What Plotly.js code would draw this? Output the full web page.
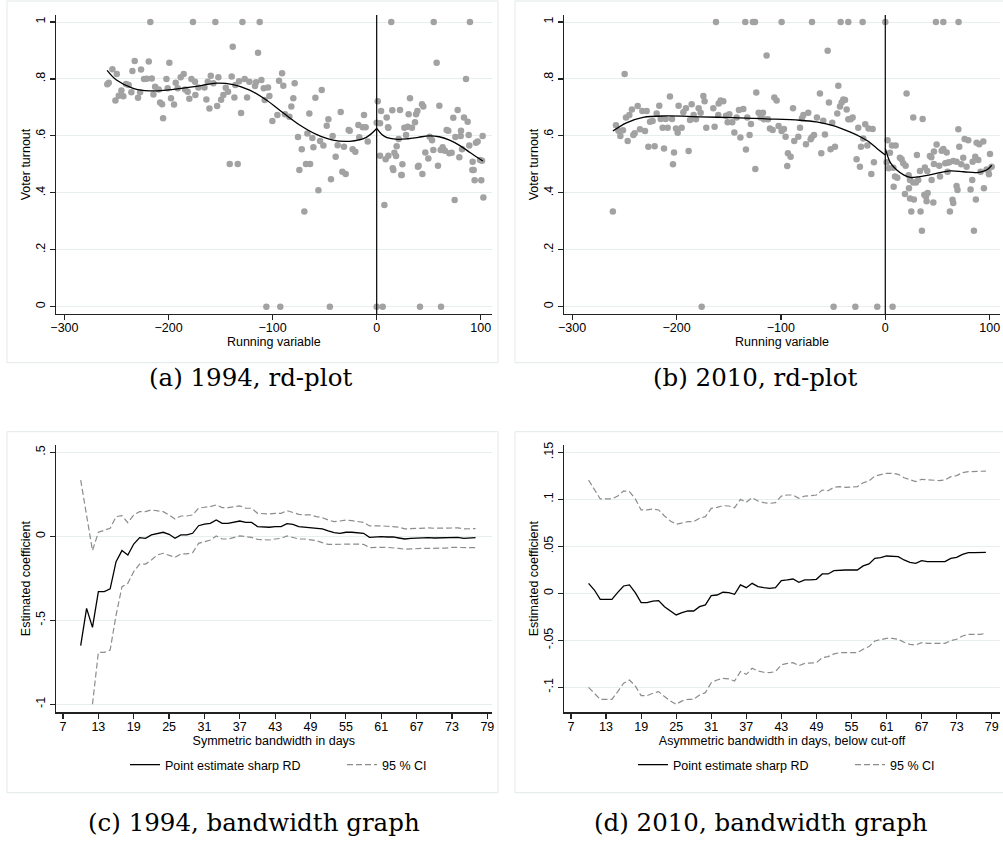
<!DOCTYPE html>
<html>
<head>
<meta charset="utf-8">
<script src="https://cdn.plot.ly/plotly-3.0.1.min.js"></script>
<style>html,body{margin:0;padding:0;background:#fff;overflow:hidden;}#chart{width:1003px;height:843px;}</style>
</head>
<body>
<div id="chart"></div>
<script>
// ---------- Panel (a) 1994 rd-plot: binned scatter (running variable, voter turnout)
const a_x = [-258.8,-257.4,-253.9,-249.7,-251,-247.8,-245.3,-243.4,-240.8,-238.3,-235.7,-234.7,-232.5,-229.3,-227.3,-226.4,-223.5,-220.9,-219,-217.5,-216.1,-214.5,-212.9,-209.4,-208.1,-206.2,-205.2,-202,-200.8,-199.2,-197.6,-194.7,-193.1,-191.2,-188.3,-185.4,-184.1,-181.6,-180,-178,-176.5,-174.5,-174.2,-171.3,-165.5,-163.6,-162.3,-160.7,-159.4,-156.9,-155,-153.3,-152.1,-149.5,-147.3,-145,-142.8,-141.2,-139.3,-138.3,-136.7,-135.8,-133.5,-132.2,-130.3,-129,-126.8,-124.5,-122.3,-116.9,-115.9,-114,-112.4,-110.8,-108.5,-107.6,-106,-104.4,-103.1,-100.2,-95.4,-93.8,-92.6,-90.9,-89.7,-88.1,-83.9,-82,-80.1,-78.8,-75.6,-74.3,-72,-69.5,-67.9,-66.6,-64.7,-64,-61.8,-60.8,-58.9,-56,-54.4,-52.8,-51.2,-48,-46.4,-45,-43.9,-42.3,-39.4,-37.5,-34.6,-33,-31.4,-29.8,-26.9,-25.9,-23.1,-20.5,-17.6,-16.7,-13.4,-12.2,-10.6,-8.6,
  0,0,1,3.2,3.2,4.2,5.8,7.4,8.6,9.6,10.9,11.2,11.2,14,15,15.4,16,17,18.6,19.2,21.1,22.4,23.7,24,24.7,26.6,28.2,29.8,30.7,32,33.9,36.8,37.8,39.1,39.6,40.3,41.6,43.5,43.9,44.8,46.7,49.6,50.9,53.2,54.4,54.8,57.6,58.9,60.2,61.5,61.8,63.4,65.6,67.2,68.8,69.8,72,73.6,74.9,75.6,77.8,79.4,80.7,81,82,83.9,85.8,87.4,88.4,89,89.6,91.9,92.2,93.2,94.1,95.4,97,99.3,100.5,101.2,101.8,102.5];
const a_y = [0.781,0.787,0.834,0.817,0.724,0.741,0.759,0.739,0.782,0.779,0.753,0.828,0.863,0.734,0.753,0.833,0.8,0.801,0.861,1,0.802,0.745,0.773,0.763,0.717,0.711,0.662,0.8,0.767,0.857,0.732,0.71,0.787,0.767,0.806,0.817,0.763,0.755,0.73,0.8,1,0.79,0.744,0.77,0.77,0.728,0.79,0.696,0.811,0.785,1,0.705,0.806,0.727,0.744,0.769,0.755,0.501,0.809,0.913,0.735,0.779,0.501,0.792,0.68,1,0.8,0.735,0.79,0.775,0.788,0.892,1,0.796,0.767,0.726,0,0.77,0.74,0.652,0.673,0.794,0,0.82,0.776,0.676,0.667,0.703,0.732,0.785,0.596,0.48,0.553,0.334,0.501,0.608,0.679,0.501,0.593,0.56,0.734,0.409,0.582,0.761,0.566,0.636,0.658,0,0.448,0.6,0.527,0.567,0.684,0.474,0.562,0.466,0.621,0.618,0.553,0.544,0.638,0.595,0.63,0.673,0.63,0.58,
  0,0.646,0.722,0.644,0.53,0.687,0,0.357,0.518,0.665,0.63,0.629,0.53,1,0.69,0.486,0.48,0.541,0.529,0.564,0.589,0.691,0.463,0.463,0.5,0.629,0.603,0.632,0.676,0.732,0.629,0.648,0.676,0.687,0.492,0.495,0,0.711,0.466,0.703,0.542,0.521,0.597,0.585,0.55,1,0.857,0.495,0.706,0.55,0,0.56,0.548,0.621,0.618,0.539,0.541,0.664,0.375,0.596,0.691,0.525,0.6,0.618,0.553,0.665,0.8,0.65,0.603,0.566,1,0.48,0.509,0.48,0.444,0.576,0.58,0.515,0.444,0.513,0.6,0.384];
// fitted polynomial, (a)
const a_fitL_x = [-259,-250,-234,-218,-202,-186,-170,-154,-138,-122,-106,-90,-74,-58,-42,-26,-10,0];
const a_fitL_y = [0.830,0.796,0.767,0.758,0.761,0.768,0.776,0.785,0.780,0.761,0.726,0.681,0.638,0.605,0.585,0.581,0.595,0.626];
const a_fitR_x = [0,5,10,20,30,40,50,60,70,80,90,102];
const a_fitR_y = [0.626,0.605,0.594,0.588,0.590,0.595,0.600,0.597,0.585,0.566,0.541,0.512];

// ---------- Panel (b) 2010 rd-plot
const b_x = [-261,-258,-255.7,-253.8,-251.3,-249.7,-248.4,-246.8,-245.2,-242.7,-241.4,-240.1,-237.2,-235,-232.8,-230.2,-228.6,-227,-225.4,-222.9,-221,-219,-216.5,-215.2,-213.3,-212,-210.4,-208.5,-206.3,-204.3,-203.4,-202.4,-200.5,-198.9,-198,-195.1,-193.5,-191,-188.4,-187.1,-185.5,-183.6,-181.4,-178.8,-176.9,-175.9,-174.3,-173.1,-171.5,-164.8,-163.5,-162.2,-160,-159.6,-157.7,-155.2,-152.6,-151,-149.4,-146.6,-144.6,-142.4,-140.2,-138.8,-136,-134.1,-133.5,-132.2,-130,-128.7,-126.8,-124.8,-124.5,-123.6,-121.3,-119.4,-117.2,-116.2,-113.7,-112.4,-110.5,-107.9,-106.3,-104.1,-102.2,-99.3,-99.3,-97.1,-95.5,-93.9,-93.3,-90.7,-88.4,-87.2,-83.3,-81.7,-79.8,-78.5,-76,-73.8,-71.5,-70.6,-70.2,-68.3,-65.5,-62.6,-61.3,-59.4,-57.8,-55.2,-54,-52.4,-50.8,-49.5,-48.2,-46,-45,-43.4,-42.8,-41.8,-40.2,-38.6,-37,-35.4,-35.4,-33.2,-31.3,-28.7,-27.5,-25.9,-24.3,-23.3,-21.7,-21.1,-19.2,-17.2,-16,-13.4,-12.1,-10.9,-7.7,
  0,1.3,2.2,3.2,4.5,6.4,7,7.7,8,9.3,9.9,11.5,14,15.6,17.2,18.8,19.5,20.4,22.4,22.7,23.7,23.7,24.9,26.8,26.8,27.4,29.4,30.3,31.6,33.2,33.8,35.1,35.8,37.4,37.9,39,39.6,40.2,40.6,42.8,44.1,44.4,46,46.6,46.6,48.5,49.2,51.7,52.4,54,55.6,55.6,57.5,58.8,59.4,59.7,61.3,61.9,64.4,65.1,65.1,68.3,68.3,69.2,70,70.2,70.9,72.8,74.7,76,77.9,79.5,81.7,83.3,83.7,84.9,86.2,86.8,87.5,89.1,90,91.3,93.9,94.5,97.1,98.7,99.3,100.3,101.9];
const b_y = [0.334,0.637,0.618,0.6,0.62,0.817,0.665,0.582,0.673,0.693,0.603,0.609,0.705,0.623,0.687,0.617,0.687,0.562,0.65,0.652,0.564,0.679,0.706,0.659,0.629,0.556,0.659,0.629,0.738,0.659,0.5,0.542,0.626,0.611,0.706,0.629,0.683,0.697,0.547,0.656,0.711,0.673,0.658,0.697,0.681,0,0.74,0.722,0.629,0.697,0.632,1,0.673,0.714,0.724,0.722,0.671,0.648,0.676,0.648,0.612,0.665,0.691,0.594,0.694,1,0.552,0.665,0.603,0.642,1,1,0.484,0.752,0.681,0.665,0.681,0.658,0.882,0.658,0.626,0.621,0.735,0.724,0.635,0.617,1,0.624,0.597,0.494,0.539,0.527,0.697,0.582,0.597,0.629,0.662,0.673,0.571,0.681,0.588,0.594,1,0.603,0.665,0.749,0.539,0.653,0.605,0.899,0.717,0.553,0.646,0,0.562,0.679,0.776,0.703,1,0.717,0.728,0.726,0.693,0.658,1,0.658,0.665,0,0.518,0.629,0.492,0.562,1,0.591,0.641,0.566,0.626,0.466,0.624,0.507,0,
  1,0.507,0.585,0.486,0.541,0.566,0,0.488,0.421,0.457,0.566,0.453,0.523,0.518,0.504,0.396,0.495,0.749,0.462,0.416,0.445,0.38,0.334,0.665,0.436,0.377,0.436,0.533,0.445,0.477,0.334,0.267,0.659,0.393,0.489,0.387,0.37,0.477,0.399,0.529,0.525,0.445,0.366,0.501,0.545,1,0.57,0.495,0.457,0.548,1,0.554,0.504,0.542,0.506,0.474,0.507,0.334,0.376,0.364,0.512,0.509,0.424,0.41,0.623,1,0.562,0.5,0.523,0.589,0.492,0.585,0.412,0.445,0.509,0.267,0.527,0.377,0.576,0.515,0.571,0.474,0.58,0.416,0.482,0.48,0.465,0.536,0.492];
const b_fitL_x = [-261,-248,-232,-210,-178,-146,-114,-82,-66,-50,-34,-24,-16,-8,0];
const b_fitL_y = [0.617,0.646,0.665,0.670,0.667,0.664,0.660,0.655,0.649,0.636,0.614,0.597,0.580,0.556,0.533];
const b_fitR_x = [0,5,11,18,24,33,49,62,75,88,97,102];
const b_fitR_y = [0.556,0.505,0.480,0.462,0.454,0.457,0.468,0.477,0.474,0.471,0.480,0.497];

// ---------- Panel (c) 1994 bandwidth graph
const c_bw = [10,11,12,13,14,15,16,17,18,19,20,21,22,23,24,25,26,27,28,29,30,31,32,33,34,35,36,37,38,39,40,41,42,43,44,45,46,47,48,49,50,51,52,53,54,55,56,57,58,59,60,61,62,63,64,65,66,67,68,69,70,71,72,73,74,75,76,77];
const c_est = [-0.651,-0.429,-0.542,-0.329,-0.329,-0.313,-0.151,-0.085,-0.111,-0.046,-0.008,-0.012,0.008,0.018,0.024,0.012,-0.012,0.008,0.008,0.018,0.063,0.073,0.077,0.097,0.077,0.077,0.083,0.091,0.083,0.083,0.058,0.054,0.054,0.058,0.058,0.075,0.071,0.058,0.054,0.054,0.048,0.044,0.032,0.022,0.018,0.024,0.024,0.022,0.018,-0.006,-0.002,-0.002,-0.004,-0.004,-0.01,-0.016,-0.012,-0.01,-0.008,-0.008,-0.01,-0.01,-0.008,-0.006,-0.006,-0.012,-0.012,-0.008];
const c_hi = [0.335,0.125,-0.085,0.024,0.034,0.048,0.117,0.123,0.081,0.127,0.147,0.147,0.157,0.153,0.147,0.127,0.103,0.121,0.121,0.127,0.167,0.173,0.177,0.187,0.171,0.171,0.177,0.181,0.167,0.167,0.137,0.133,0.133,0.137,0.137,0.153,0.143,0.131,0.127,0.127,0.117,0.111,0.097,0.087,0.091,0.097,0.093,0.087,0.083,0.062,0.063,0.062,0.060,0.058,0.055,0.044,0.046,0.048,0.050,0.050,0.048,0.048,0.048,0.050,0.050,0.044,0.044,0.046];
const c_lo_bw = [12,13,14,15,16,17,18,19,20,21,22,23,24,25,26,27,28,29,30,31,32,33,34,35,36,37,38,39,40,41,42,43,44,45,46,47,48,49,50,51,52,53,54,55,56,57,58,59,60,61,62,63,64,65,66,67,68,69,70,71,72,73,74,75,76,77];
const c_lo = [-1.0,-0.691,-0.691,-0.677,-0.47,-0.30,-0.28,-0.21,-0.165,-0.165,-0.141,-0.111,-0.101,-0.111,-0.125,-0.105,-0.105,-0.097,-0.042,-0.032,-0.022,0.002,-0.016,-0.016,-0.006,0.002,-0.002,-0.006,-0.018,-0.022,-0.022,-0.016,-0.012,0.002,-0.008,-0.016,-0.016,-0.022,-0.026,-0.038,-0.048,-0.048,-0.046,-0.046,-0.046,-0.046,-0.048,-0.067,-0.065,-0.066,-0.066,-0.068,-0.072,-0.077,-0.074,-0.072,-0.072,-0.072,-0.072,-0.072,-0.07,-0.066,-0.066,-0.07,-0.07,-0.068];

// ---------- Panel (d) 2010 bandwidth graph
const d_bw = [10,11,12,13,14,15,16,17,18,19,20,21,22,23,24,25,26,27,28,29,30,31,32,33,34,35,36,37,38,39,40,41,42,43,44,45,46,47,48,49,50,51,52,53,54,55,56,57,58,59,60,61,62,63,64,65,66,67,68,69,70,71,72,73,74,75,76,77,78];
const d_est = [0.0106,0.0035,-0.0064,-0.0064,-0.0064,0.001,0.0078,0.0089,0.0007,-0.0099,-0.0099,-0.0082,-0.0078,-0.0142,-0.0184,-0.023,-0.0206,-0.0188,-0.0188,-0.0142,-0.0124,-0.0025,-0.0018,0.0011,0.0007,-0.0011,0.0089,0.006,0.0106,0.0071,0.006,0.0053,0.006,0.0135,0.0142,0.0152,0.0117,0.0142,0.0142,0.0149,0.0206,0.0206,0.0241,0.0248,0.0248,0.0248,0.0248,0.0291,0.0312,0.0372,0.0379,0.0397,0.0397,0.039,0.0355,0.033,0.0319,0.0348,0.0337,0.0337,0.0337,0.0337,0.0372,0.0383,0.0415,0.0433,0.0433,0.0433,0.0436];
const d_hi = [0.1206,0.110,0.1004,0.1004,0.1004,0.1035,0.1089,0.1082,0.1004,0.0887,0.0887,0.0897,0.0887,0.0823,0.077,0.0734,0.0752,0.0762,0.0762,0.0798,0.0816,0.0904,0.0915,0.0933,0.0929,0.0911,0.1,0.0968,0.1018,0.0982,0.0965,0.0957,0.0965,0.1035,0.1046,0.1046,0.1011,0.1035,0.1039,0.1046,0.1099,0.1092,0.1128,0.1135,0.1128,0.1128,0.1135,0.1177,0.1195,0.1248,0.1259,0.1277,0.1277,0.1266,0.123,0.1206,0.1188,0.1213,0.1206,0.1199,0.1199,0.1206,0.1241,0.1252,0.1284,0.1294,0.1294,0.1294,0.1301];
const d_lo = [-0.1,-0.1064,-0.1128,-0.1128,-0.1128,-0.1046,-0.0957,-0.0922,-0.0986,-0.1089,-0.1089,-0.1064,-0.1046,-0.1099,-0.1145,-0.1181,-0.1145,-0.1128,-0.1128,-0.1082,-0.1057,-0.095,-0.0922,-0.0904,-0.0911,-0.0933,-0.0833,-0.0862,-0.0798,-0.0826,-0.084,-0.0844,-0.0833,-0.0762,-0.0745,-0.0738,-0.077,-0.0745,-0.0738,-0.0738,-0.0684,-0.0674,-0.0645,-0.0631,-0.0631,-0.0631,-0.0631,-0.0596,-0.0567,-0.0507,-0.0496,-0.0479,-0.0479,-0.0489,-0.0521,-0.0543,-0.055,-0.0525,-0.0532,-0.0532,-0.0532,-0.0532,-0.0504,-0.0489,-0.0454,-0.0436,-0.0436,-0.0436,-0.0426];

// tick labels
const rd_xticks = [-300,-200,-100,0,100];
const rd_yticks = [0,0.2,0.4,0.6,0.8,1];
const rd_ylabels = ['0','.2','.4','.6','.8','1'];
const bw_xticks = [7,13,19,25,31,37,43,49,55,61,67,73,79];
const c_yticks = [-1,-0.5,0,0.5];
const c_ylabels = ['-1','-.5','0','.5'];
const d_yticks = [-0.1,-0.05,0,0.05,0.1,0.15];
const d_ylabels = ['-.1','-.05','0','.05','.1','.15'];
const cutoff = 0;
const captions = ['(a) 1994, rd-plot','(b) 2010, rd-plot','(c) 1994, bandwidth graph','(d) 2010, bandwidth graph'];

// ---------- styling helpers
const W = 1003, H = 843;
const px = v => v / W, py = v => 1 - v / H;
const SANS = 'Liberation Sans, Arial, sans-serif';
const DOT = '#a2a2a2', GRID = '#e6eef0', AX = '#222';
const ptMarker = {size: 6.5, color: DOT};
const fitLine = {color: '#000', width: 1.3, shape: 'spline'};
const estLine = {color: '#000', width: 1.3};
const ciLine = {color: '#8c8c8c', width: 1.2, dash: '6px,3px'};

const traces = [
  {x: a_x, y: a_y, mode: 'markers', marker: ptMarker, xaxis: 'x', yaxis: 'y', showlegend: false},
  {x: a_fitL_x, y: a_fitL_y, mode: 'lines', line: fitLine, xaxis: 'x', yaxis: 'y', showlegend: false},
  {x: a_fitR_x, y: a_fitR_y, mode: 'lines', line: fitLine, xaxis: 'x', yaxis: 'y', showlegend: false},
  {x: b_x, y: b_y, mode: 'markers', marker: ptMarker, xaxis: 'x2', yaxis: 'y2', showlegend: false},
  {x: b_fitL_x, y: b_fitL_y, mode: 'lines', line: fitLine, xaxis: 'x2', yaxis: 'y2', showlegend: false},
  {x: b_fitR_x, y: b_fitR_y, mode: 'lines', line: fitLine, xaxis: 'x2', yaxis: 'y2', showlegend: false},
  {x: c_bw, y: c_est, mode: 'lines', line: estLine, xaxis: 'x3', yaxis: 'y3', name: 'Point estimate sharp RD', legend: 'legend'},
  {x: c_bw, y: c_hi, mode: 'lines', line: ciLine, xaxis: 'x3', yaxis: 'y3', name: '95 % CI', legend: 'legend'},
  {x: c_lo_bw, y: c_lo, mode: 'lines', line: ciLine, xaxis: 'x3', yaxis: 'y3', showlegend: false},
  {x: d_bw, y: d_est, mode: 'lines', line: estLine, xaxis: 'x4', yaxis: 'y4', name: 'Point estimate sharp RD', legend: 'legend2'},
  {x: d_bw, y: d_hi, mode: 'lines', line: ciLine, xaxis: 'x4', yaxis: 'y4', name: '95 % CI', legend: 'legend2'},
  {x: d_bw, y: d_lo, mode: 'lines', line: ciLine, xaxis: 'x4', yaxis: 'y4', showlegend: false}
];

function xa(domain, range, ticks, title, anchor) {
  return {domain, range, tickvals: ticks, anchor, showline: true, linecolor: AX, linewidth: 1.4,
    ticks: 'outside', ticklen: 5, tickwidth: 1.2, tickcolor: AX, showgrid: false, zeroline: false,
    ticklabelstandoff: -3,
    tickfont: {family: SANS, size: 12.5, color: '#000'},
    title: {text: title, font: {family: SANS, size: 12.5, color: '#000'}, standoff: 0}};
}
function ya(domain, range, ticks, labels, title, anchor) {
  return {domain, range, tickvals: ticks, ticktext: labels, tickangle: -90, anchor, showline: true,
    linecolor: AX, linewidth: 1.4, ticks: 'outside', ticklen: 5, tickwidth: 1.2, tickcolor: AX,
    showgrid: true, gridcolor: GRID, gridwidth: 1, zeroline: false,
    tickfont: {family: SANS, size: 12.5, color: '#000'},
    title: {text: title, font: {family: SANS, size: 12.5, color: '#000'}, standoff: 0}};
}

const leftDom = [px(56), px(491.7)], rightDom = [px(564), px(1000)];
const topDom = [py(314), py(15)], botDom = [py(712.3), py(445)];

const frame = (x0, x1, y0, y1) => ({type: 'rect', xref: 'paper', yref: 'paper', x0: px(x0), x1: px(x1),
  y0: py(y1), y1: py(y0), line: {color: '#e2e9eb', width: 1}, layer: 'below'});

const legendStyle = (xPix) => ({orientation: 'h', x: px(xPix), xanchor: 'left', y: py(765), yanchor: 'middle',
  font: {family: SANS, size: 12.5, color: '#000'}, bgcolor: 'rgba(0,0,0,0)', entrywidth: 172,
  entrywidthmode: 'pixels', tracegroupgap: 0});

const capFont = {family: 'DejaVu Serif, serif', size: 24.5, color: '#000'};
const cap = (i, xPix, yPix) => ({text: captions[i], xref: 'paper', yref: 'paper', x: px(xPix), y: py(yPix),
  xanchor: 'center', yanchor: 'middle', showarrow: false, font: capFont});
const layout = {
  width: W, height: H, margin: {l: 0, r: 0, t: 0, b: 0, autoexpand: false}, paper_bgcolor: '#fff', plot_bgcolor: '#fff',
  font: {family: SANS, size: 12.5, color: '#000'},
  xaxis: xa(leftDom, [-308.1, 110.5], rd_xticks, 'Running variable', 'y'),
  yaxis: ya(topDom, [-0.0256, 1.0246], rd_yticks, rd_ylabels, 'Voter turnout', 'x'),
  xaxis2: xa(rightDom, [-307.8, 109.9], rd_xticks, 'Running variable', 'y2'),
  yaxis2: ya(topDom, [-0.0256, 1.0246], rd_yticks, rd_ylabels, 'Voter turnout', 'x2'),
  xaxis3: xa(leftDom, [5.81, 79.74], bw_xticks, 'Symmetric bandwidth in days', 'y3'),
  yaxis3: ya(botDom, [-1.0476, 0.5435], c_yticks, c_ylabels, 'Estimated coefficient', 'x3'),
  xaxis4: xa(rightDom, [5.80, 80.42], bw_xticks, 'Asymmetric bandwidth in days, below cut-off', 'y4'),
  yaxis4: ya(botDom, [-0.1266, 0.1578], d_yticks, d_ylabels, 'Estimated coefficient', 'x4'),
  showlegend: true,
  legend: legendStyle(125),
  legend2: legendStyle(633),
  shapes: [
    frame(7, 498, 1, 362.7), frame(515, 1010, 1, 362.7),
    frame(7, 498, 431.7, 792.7), frame(515, 1010, 431.7, 792.7),
    {type: 'line', xref: 'x', yref: 'y domain', x0: cutoff, x1: cutoff, y0: 0, y1: 1, line: {color: '#000', width: 1.2}},
    {type: 'line', xref: 'x2', yref: 'y2 domain', x0: cutoff, x1: cutoff, y0: 0, y1: 1, line: {color: '#000', width: 1.2}}
  ],
  annotations: [cap(0, 250, 377), cap(1, 755, 377), cap(2, 254, 822), cap(3, 761, 822)]
};

Plotly.newPlot('chart', traces, layout, {staticPlot: true, displayModeBar: false});
</script>
</body>
</html>
